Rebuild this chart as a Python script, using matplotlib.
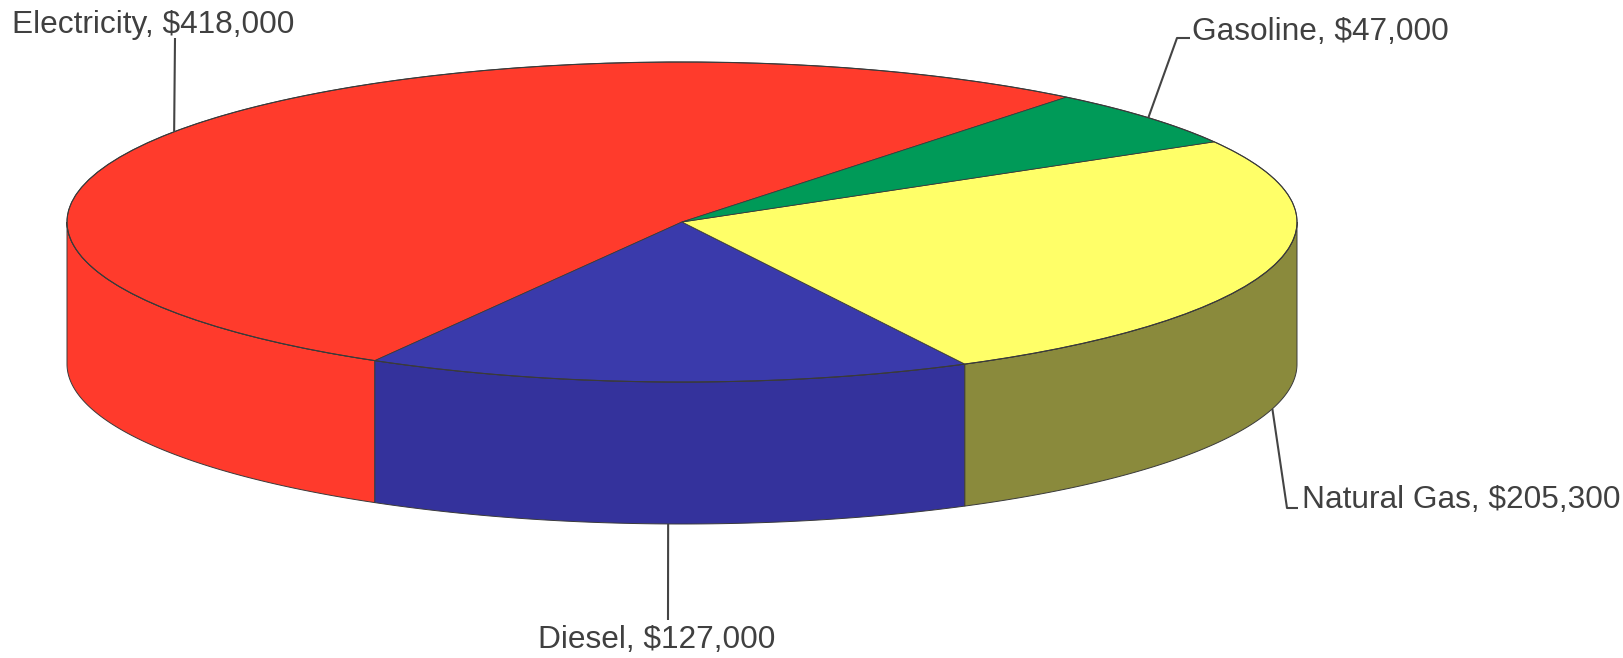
import numpy as np
import matplotlib
matplotlib.use("Agg")
import matplotlib.pyplot as plt
from matplotlib.patches import Wedge, Polygon, Ellipse
from matplotlib.transforms import Affine2D

# Fuel costs
labels = ["Electricity", "Diesel", "Natural Gas", "Gasoline"]
values = [418000, 127000, 205300, 47000]
top_colors = ["#ff3b2c", "#3a3aab", "#ffff68", "#009a58"]
side_colors = ["#ff3a2c", "#34329c", "#8a8a3c", "#007a45"]
start_angle = 51.3

# pie geometry (in pixel units of the figure, y pointing up)
W, H = 1623, 658
cx, cy = 682, 436
a, b = 615, 160
depth = 142

fig = plt.figure(figsize=(W / 100, H / 100), dpi=100)
ax = fig.add_axes([0, 0, 1, 1])
ax.set_xlim(0, W)
ax.set_ylim(0, H)
ax.axis("off")

total = float(sum(values))
angles = start_angle + 360.0 * np.concatenate([[0], np.cumsum(values)]) / total


def pt(theta, drop=0.0):
    t = np.radians(theta)
    return cx + a * np.cos(t), cy + b * np.sin(t) - drop


# side walls, only the front half (180..360 deg) is visible
for i in range(len(values)):
    t1, t2 = angles[i], angles[i + 1]
    for shift in (0, 360, -360):
        lo = max(t1 + shift, 180)
        hi = min(t2 + shift, 360)
        if hi <= lo:
            continue
        th = np.linspace(lo, hi, 120)
        xs, ys = pt(th)
        xb, yb = pt(th[::-1], depth)
        poly = np.column_stack([np.concatenate([xs, xb]), np.concatenate([ys, yb])])
        ax.add_patch(Polygon(poly, closed=True, facecolor=side_colors[i],
                             edgecolor="#3a3a3a", lw=0.7, zorder=1))

# top face
squash = Affine2D().scale(a, b).translate(cx, cy) + ax.transData
for i in range(len(values)):
    ax.add_patch(Wedge((0, 0), 1, angles[i], angles[i + 1], facecolor=top_colors[i],
                       edgecolor="#3a3a3a", lw=0.6, transform=squash, zorder=2))
ax.add_patch(Ellipse((0, 0), 2, 2, fill=False, edgecolor="#3a3a3a", lw=0.8,
                     transform=squash, zorder=3))

# labels with leader lines
label_paths = {
    "Electricity": [(175, 620)],
    "Gasoline": [(1177, 620), (1190, 620)],
    "Natural Gas": [(1287, 150), (1298, 150)],
    "Diesel": [(668, 38)],
}
label_text_pos = {
    "Electricity": (12, 625),
    "Gasoline": (1192, 618),
    "Natural Gas": (1302, 150),
    "Diesel": (538, 10),
}
for i, name in enumerate(labels):
    mid = (angles[i] + angles[i + 1]) / 2
    s = np.sin(np.radians(mid))
    x0, y0 = pt(mid, depth if s < 0 else 0)
    pts = [(x0, y0)] + label_paths[name]
    ax.plot([p[0] for p in pts], [p[1] for p in pts], color="#444444", lw=1.5,
            zorder=4, solid_capstyle="butt")
    tx, ty = label_text_pos[name]
    ax.text(tx, ty, f"{name}, ${values[i]:,}", fontsize=22.8, family="Liberation Sans",
            color="#404040", ha="left", va="baseline", zorder=5)

fig.savefig("out.png", dpi=100, facecolor="white")
